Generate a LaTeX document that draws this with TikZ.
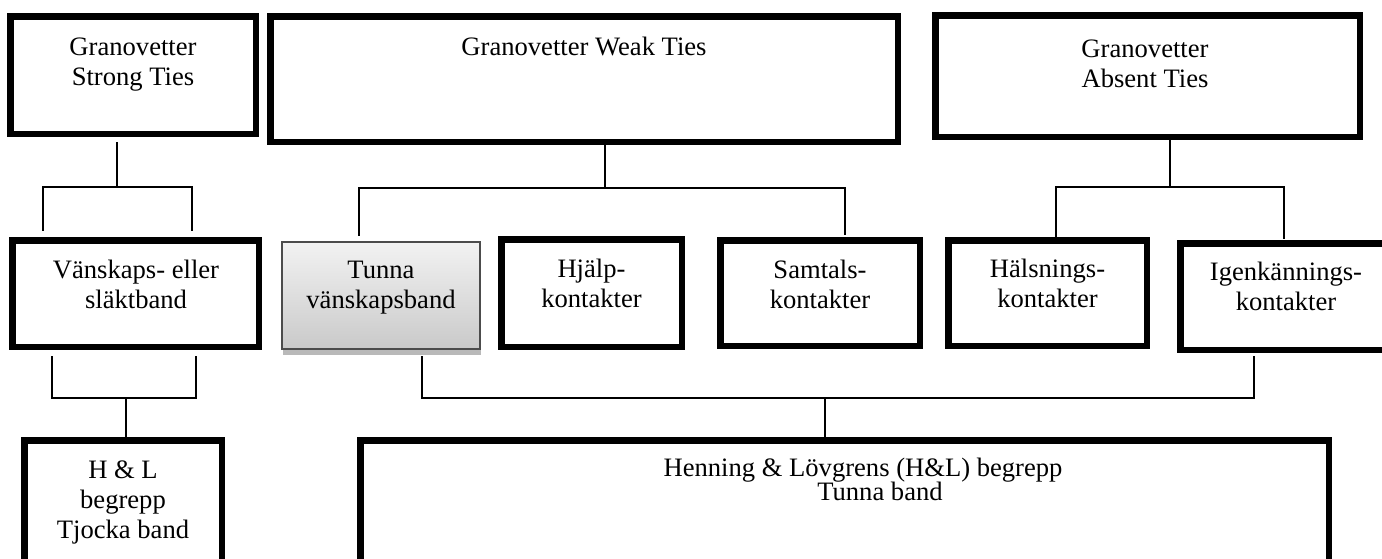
\documentclass[tikz,border=0pt]{standalone}
\usepackage{fontspec}
\setmainfont{Liberation Serif}
\begin{document}
\begin{tikzpicture}[x=0.5pt,y=-0.5pt,
  tbox/.style={draw=black, line width=3.25pt, inner sep=0pt, fill=white},
  conn/.style={line width=0.85pt, line cap=rect},
  txt/.style={font=\fontsize{13.3}{15}\selectfont, align=center, inner sep=0pt, anchor=north},
  ltxt/.style={font=\fontsize{13.3}{15}\selectfont, inner sep=0pt, anchor=base}]
\clip (0,0) rectangle (1382,558);
\fill[white] (0,0) rectangle (1382,558);
% top row
\node[tbox, minimum width=122.75pt, minimum height=58.75pt] (strong) at (133,75) {};
\node[tbox, minimum width=313.75pt, minimum height=62.75pt] (weak) at (584,79) {};
\node[tbox, minimum width=212.25pt, minimum height=60.75pt] (absent) at (1147.5,76) {};
\node[txt] (strongT) at (133,35) {\rule{0pt}{10pt}Granovetter\\Strong Ties};
\node[txt] (weakT) at (584,35) {\rule{0pt}{10pt}Granovetter Weak Ties};
\node[txt] (absentT) at (1145,37) {\rule{0pt}{10pt}Granovetter\\Absent Ties};
% middle row
\node[tbox, minimum width=123.25pt, minimum height=53.25pt] (vansk) at (135.5,293.5) {};
\fill[gray!55] (283,349) rectangle (481,355);
\node[draw=gray!60!black, line width=0.6pt, top color=gray!10, bottom color=gray!42, inner sep=0pt,
      minimum width=99pt, minimum height=53.5pt] (tunna) at (381,295.5) {};
\node[tbox, minimum width=90.25pt, minimum height=53.75pt] (hjalp) at (591.5,293) {};
\node[tbox, minimum width=99.75pt, minimum height=52.75pt] (samtal) at (820,293) {};
\node[tbox, minimum width=99.25pt, minimum height=52.75pt] (halsn) at (1047.5,293) {};
\node[tbox, minimum width=105.75pt, minimum height=53.25pt] (igen) at (1286,296.5) {};
\node[txt] (vanskT) at (136,258) {\rule{0pt}{10pt}Vänskaps- eller\\släktband};
\node[txt] (tunnaT) at (381,258) {\rule{0pt}{10pt}Tunna\\vänskapsband};
\node[txt] (hjalpT) at (591.5,257) {\rule{0pt}{10pt}Hjälp-\\kontakter};
\node[txt] (samtalT) at (820,258) {\rule{0pt}{10pt}Samtals-\\kontakter};
\node[txt] (halsnT) at (1047.5,257) {\rule{0pt}{10pt}Hälsnings-\\kontakter};
\node[txt] (igenT) at (1286,260) {\rule{0pt}{10pt}Igenkännings-\\kontakter};
% bottom row
\node[tbox, minimum width=98.75pt, minimum height=65.75pt] (hl) at (123,506) {};
\node[tbox, minimum width=484.25pt, minimum height=65.75pt] (henning) at (844.5,506) {};
\node[txt] (hlT) at (123,458) {\rule{0pt}{10pt}H \& L\\begrepp\\Tjocka band};
\node[ltxt] (henT1) at (863,476) {Henning \& Lövgrens (H\&L) begrepp};
\node[ltxt] (henT2) at (880,500) {Tunna band};
% connectors: strong
\coordinate (s0) at (117,143);
\coordinate (s1) at (117,187);
\coordinate (s2) at (43,230);
\coordinate (s3) at (192,230);
\draw[conn] (s0) -- (s1);
\draw[conn] (s2) |- (s1) -| (s3);
% weak
\coordinate (w0) at (605,146);
\coordinate (w1) at (605,188);
\coordinate (w2) at (359,235);
\coordinate (w3) at (845,234);
\draw[conn] (w0) -- (w1);
\draw[conn] (w2) |- (w1) -| (w3);
% absent
\coordinate (a0) at (1170,141);
\coordinate (a1) at (1170,187);
\coordinate (a2) at (1056,236);
\coordinate (a3) at (1284,238);
\draw[conn] (a0) -- (a1);
\draw[conn] (a2) |- (a1) -| (a3);
% vanskaps -> H&L
\coordinate (v1) at (52,357);
\coordinate (v2) at (196,357);
\coordinate (v3) at (126,398);
\coordinate (v4) at (126,437);
\draw[conn] (v1) |- (v3) -| (v2);
\draw[conn] (v3) -- (v4);
% tunna/igen -> Henning
\coordinate (t1) at (422,357);
\coordinate (t2) at (1254,357);
\coordinate (t3) at (825,398);
\coordinate (t4) at (825,437);
\draw[conn] (t1) |- (t3) -| (t2);
\draw[conn] (t3) -- (t4);
\end{tikzpicture}
\end{document}
